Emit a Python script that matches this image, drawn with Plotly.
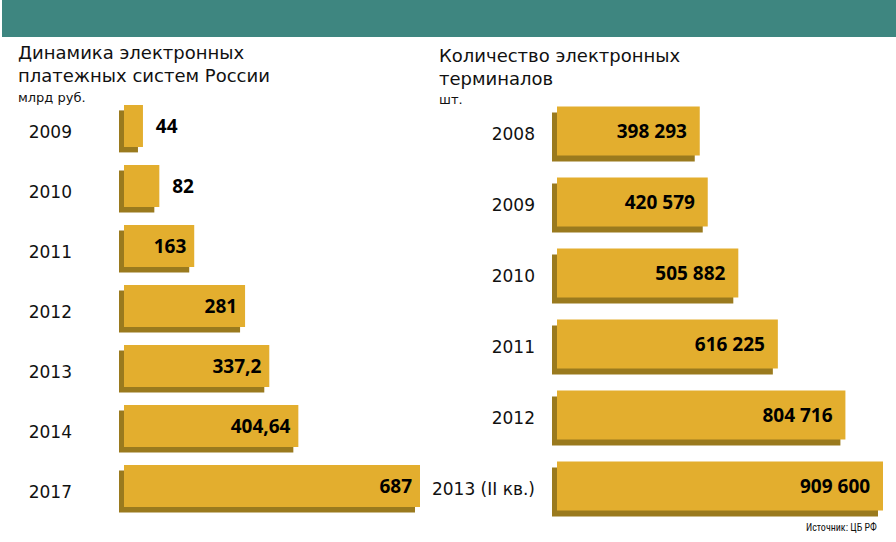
import plotly.graph_objects as go

# left chart: payment systems, bln rub
pay_years = ["2009", "2010", "2011", "2012", "2013", "2014", "2017"]
pay_values = [44, 82, 163, 281, 337.2, 404.64, 687]

# right chart: number of terminals
term_years = ["2008", "2009", "2010", "2011", "2012", "2013 (II кв.)"]
term_values = [398293, 420579, 505882, 616225, 804716, 909600]

W, H = 896, 542
GOLD = "#E3AE2E"
DARK = "#9A7A1E"
TEAL = "#3E8680"
NB = "\u00a0"


def px_x(p):
    return p / W


def px_y(p):
    return 1 - p / H


pay_text = [NB * 2 + str(v).replace(".", ",") + NB for v in pay_values]
term_text = [NB * 2 + f"{v:,}".replace(",", " ") + NB * 2 for v in term_values]
pay_pos = ["outside" if v < 100 else "inside" for v in pay_values]

# pixel scales
l_scale = 296 / 687          # px per unit, left
r_scale = 326 / 909600       # px per unit, right
l_side = 5 / l_scale
r_side = 5 / r_scale

label_font = dict(family="Open Sans", size=19, color="black", weight="bold")
year_font = dict(family="DejaVu Sans", size=17, color="#111111")

fig = go.Figure()

# left: extruded side (dark) then front face (gold)
fig.add_trace(go.Bar(y=pay_years, x=pay_values, base=-l_side, orientation="h",
                     width=0.7, offset=-0.36, marker=dict(color=DARK, line_width=0),
                     hoverinfo="skip", xaxis="x", yaxis="y"))
fig.add_trace(go.Bar(y=pay_years, x=pay_values, orientation="h",
                     width=0.7, offset=-0.45, marker=dict(color=GOLD, line_width=0),
                     text=pay_text, textposition=pay_pos, insidetextanchor="end",
                     constraintext="none", cliponaxis=False, textfont=label_font,
                     xaxis="x", yaxis="y"))

# right
fig.add_trace(go.Bar(y=term_years, x=term_values, base=-r_side, orientation="h",
                     width=0.69, offset=-0.302, marker=dict(color=DARK, line_width=0),
                     hoverinfo="skip", xaxis="x2", yaxis="y2"))
fig.add_trace(go.Bar(y=term_years, x=term_values, orientation="h",
                     width=0.69, offset=-0.387, marker=dict(color=GOLD, line_width=0),
                     text=term_text, textposition="inside", insidetextanchor="end",
                     constraintext="none", cliponaxis=False, textfont=label_font,
                     xaxis="x2", yaxis="y2"))

# axis geometry
l_dom = (80, 448)
l_zero = 124
r_dom = (545, 896)
r_zero = 557
y_dom = (90, 530)

l_spacing, l_first = 60, 132
r_spacing, r_first = 71, 134
l_top = -(l_first - y_dom[0]) / l_spacing
l_bot = l_top + (y_dom[1] - y_dom[0]) / l_spacing
r_top = -(r_first - y_dom[0]) / r_spacing
r_bot = r_top + (y_dom[1] - y_dom[0]) / r_spacing

hidden_x = dict(showgrid=False, zeroline=False, showticklabels=False, showline=False, fixedrange=True)
fig.update_layout(
    width=W, height=H,
    margin=dict(l=0, r=0, t=0, b=0),
    paper_bgcolor="white", plot_bgcolor="white",
    barmode="overlay", showlegend=False,
    font=dict(family="DejaVu Sans", color="#111111"),
    xaxis=dict(hidden_x, domain=[px_x(l_dom[0]), px_x(l_dom[1])],
               range=[-(l_zero - l_dom[0]) / l_scale, (l_dom[1] - l_zero) / l_scale]),
    yaxis=dict(domain=[px_y(y_dom[1]), px_y(y_dom[0])], range=[l_bot, l_top],
               showgrid=False, zeroline=False, showline=False, ticks="",
               ticklabelstandoff=7, tickfont=year_font),
    xaxis2=dict(hidden_x, domain=[px_x(r_dom[0]), px_x(r_dom[1])],
                range=[-(r_zero - r_dom[0]) / r_scale, (r_dom[1] - r_zero) / r_scale]),
    yaxis2=dict(domain=[px_y(y_dom[1]), px_y(y_dom[0])], range=[r_bot, r_top],
                anchor="x2", showgrid=False, zeroline=False, showline=False, ticks="",
                ticklabelstandoff=9, tickfont=year_font),
    shapes=[dict(type="rect", xref="paper", yref="paper",
                 x0=px_x(2), x1=1, y0=px_y(37), y1=1,
                 fillcolor=TEAL, line_width=0, layer="below")],
)

titles = [
    (16, 40, "Динамика электронных<br>платежных систем России", 18),
    (16, 88, "млрд руб.", 13),
    (437, 43, "Количество электронных<br>терминалов", 18),
    (437, 90, "шт.", 13),
]
for x, y, t, s in titles:
    fig.add_annotation(x=px_x(x), y=px_y(y), xref="paper", yref="paper",
                       text=t, showarrow=False, xanchor="left", yanchor="top",
                       align="left", font=dict(size=s, color="#111111"))

fig.add_annotation(x=px_x(879), y=px_y(527), xref="paper", yref="paper",
                   text="Источник: ЦБ РФ", showarrow=False, xanchor="right", yanchor="middle",
                   font=dict(family="Roboto Condensed, Liberation Sans Narrow, Roboto", size=10, color="#111111"))

# the page body has a default 8px margin; drop it so the figure fills the window
fig.write_html("out.html", config={"displayModeBar": False},
               post_script="document.body.style.margin='0px';")
